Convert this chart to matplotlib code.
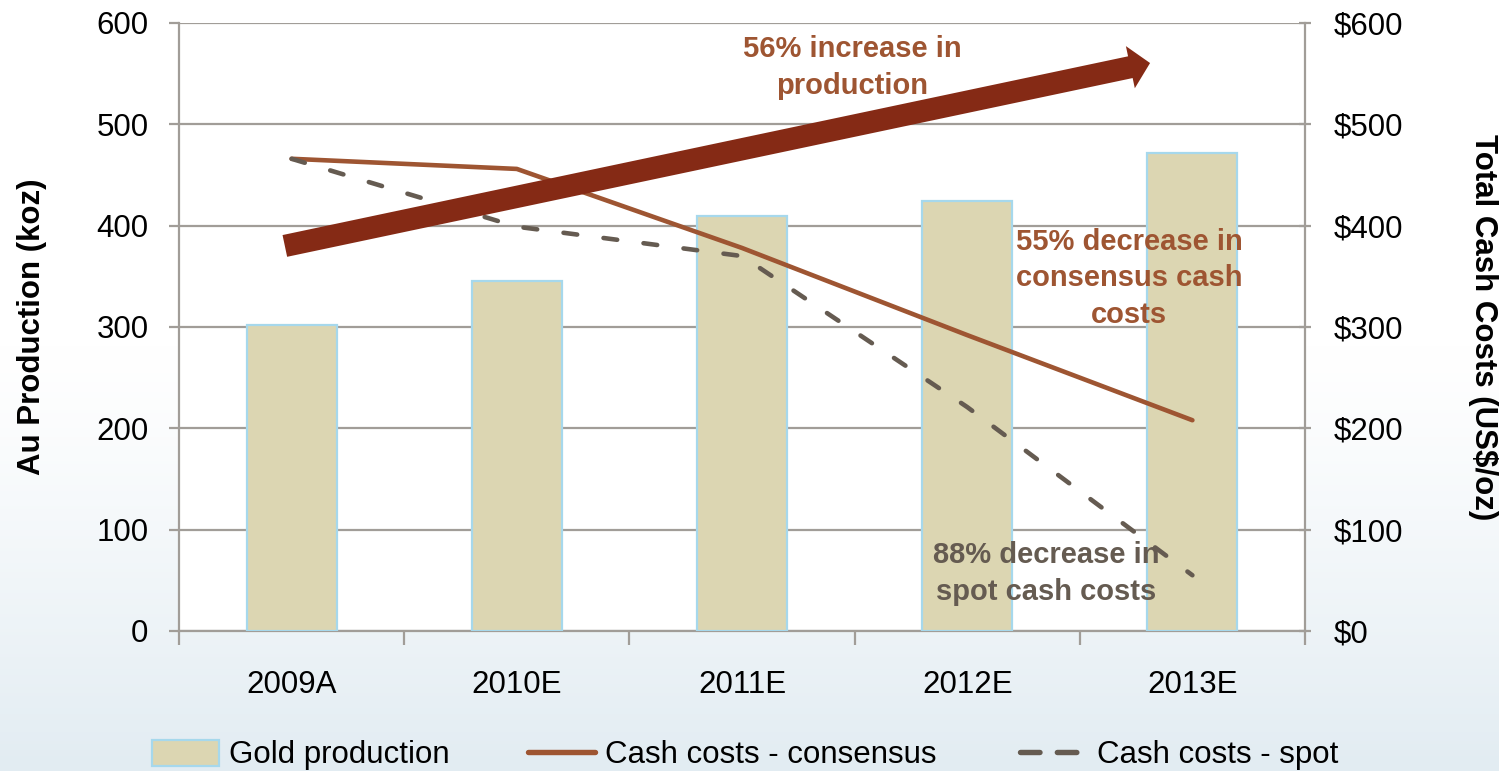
import numpy as np
import matplotlib
matplotlib.use("Agg")
import matplotlib.pyplot as plt
from matplotlib.ticker import FuncFormatter, MultipleLocator
from matplotlib.patches import FancyArrowPatch
from matplotlib.lines import Line2D
from matplotlib.patches import Patch

# ---- data ----
categories = ["2009A", "2010E", "2011E", "2012E", "2013E"]
gold_production = [302, 345, 410, 424, 472]          # koz
cash_costs_consensus = [466, 456, 378, 292, 208]     # US$/oz
cash_costs_spot = [466, 399, 370, 221, 55]           # US$/oz
series_labels = ["Gold production", "Cash costs - consensus", "Cash costs - spot"]

plt.rcParams['font.family'] = ['Liberation Sans', 'DejaVu Sans']

W, H = 1499, 771
fig = plt.figure(figsize=(W / 100, H / 100), dpi=100)

# background gradient
bg = fig.add_axes([0, 0, 1, 1], zorder=-10)
grad = np.ones((256, 1, 3))
t = np.linspace(0, 1, 256)  # 0 = top, 1 = bottom
w = np.clip((t - 0.45) / 0.55, 0, 1) ** 1.2
top_c = np.array([1.0, 1.0, 1.0])
bot_c = np.array([226, 236, 242]) / 255
grad[:, 0, :] = top_c[None, :] * (1 - w[:, None]) + bot_c[None, :] * w[:, None]
bg.imshow(grad, aspect='auto', extent=[0, 1, 0, 1])
bg.axis('off')

left, right, top, bottom = 179 / W, 1305 / W, 1 - 23 / H, 1 - 631 / H
ax = fig.add_axes([left, bottom, right - left, top - bottom])
ax.set_facecolor('white')

x = np.arange(len(categories))
grid_c = '#A19D98'
bar_face = '#DCD6B2'
bar_edge = '#A6D8EC'
cons_c = '#9E5532'
spot_c = '#655B51'
arrow_c = '#852A15'
FS = 22.5
LW = 3.3
SPOT_DASH = (0, (3.0, 5.8))

ax.bar(x, gold_production, width=0.4, color=bar_face, edgecolor=bar_edge,
       linewidth=1.6, zorder=3)
ax.set_xlim(-0.5, len(categories) - 0.5)
ax.set_ylim(0, 600)
ax.yaxis.set_major_locator(MultipleLocator(100))
ax.grid(axis='y', color=grid_c, linewidth=1.6, zorder=0)
ax.set_axisbelow(True)

ax.set_xticks(x)
ax.set_xticklabels(categories, fontsize=FS)
ax.set_xticks(np.arange(-0.5, len(categories)), minor=True)
ax.tick_params(axis='x', which='major', length=0, pad=28)
ax.tick_params(axis='x', which='minor', length=10, width=1.6, color=grid_c, direction='out')
ax.tick_params(axis='y', labelsize=FS, length=7, width=1.6, color=grid_c, pad=15, direction='out')

for s in ['top', 'right']:
    ax.spines[s].set_visible(False)
for s in ['left', 'bottom']:
    ax.spines[s].set_color(grid_c)
    ax.spines[s].set_linewidth(1.6)

ax.set_ylabel("Au Production (koz)", fontsize=FS, fontweight='bold')
ax.yaxis.set_label_coords(-0.117, 0.5)

ax2 = ax.twinx()
ax2.set_ylim(0, 600)
ax2.yaxis.set_major_locator(MultipleLocator(100))
ax2.yaxis.set_major_formatter(FuncFormatter(lambda v, p: f"${int(v)}"))
ax2.tick_params(axis='y', labelsize=FS, length=9, width=1.6, color=grid_c, pad=16, direction='inout')
for s in ['top', 'left', 'bottom']:
    ax2.spines[s].set_visible(False)
ax2.spines['right'].set_color(grid_c)
ax2.spines['right'].set_linewidth(1.6)
ax2.set_ylabel("Total Cash Costs (US$/oz)", fontsize=FS, fontweight='bold', rotation=270)
ax2.yaxis.set_label_coords(1.171, 0.5)

ax2.plot(x, cash_costs_consensus, color=cons_c, linewidth=LW, zorder=4,
         solid_capstyle='round', solid_joinstyle='round')
ax2.plot(x, cash_costs_spot, color=spot_c, linewidth=LW, zorder=4,
         linestyle=SPOT_DASH, dash_capstyle='round')

# big trend arrow
arr = FancyArrowPatch((-0.03, 380), (3.812, 560.5), transform=ax2.transData,
                      arrowstyle='simple,head_length=1.45,head_width=3.1,tail_width=1.6',
                      mutation_scale=10, color=arrow_c, zorder=6, linewidth=0,
                      shrinkA=0, shrinkB=0)
ax2.add_patch(arr)

TFS = 21
ax2.text(2.49, 556, "56% increase in\nproduction", ha='center', va='center',
         fontsize=TFS, fontweight='bold', color=cons_c, linespacing=1.4, zorder=7)
ax2.text(3.72, 348, "55% decrease in\nconsensus cash\ncosts", ha='center', va='center',
         fontsize=TFS, fontweight='bold', color=cons_c, linespacing=1.4, zorder=7)
ax2.text(3.35, 57, "88% decrease in\nspot cash costs", ha='center', va='center',
         fontsize=TFS, fontweight='bold', color=spot_c, linespacing=1.4, zorder=3)

handles = [Patch(facecolor=bar_face, edgecolor=bar_edge, linewidth=1.6),
           Line2D([], [], color=cons_c, linewidth=LW + 0.6, solid_capstyle='round'),
           Line2D([], [], color=spot_c, linewidth=LW + 0.6, linestyle=(0, (3.6, 3.2)),
                  dash_capstyle='round')]
legend_x_px = [152, 528, 1020]
for h, lab, lx in zip(handles, series_labels, legend_x_px):
    fig.legend([h], [lab], loc='center left', bbox_to_anchor=(lx / W, 1 - 755 / H),
               frameon=False, fontsize=FS, handlelength=2.15, handleheight=0.9,
               handletextpad=0.3, borderpad=0, borderaxespad=0)

fig.savefig("out.png", dpi=100)
